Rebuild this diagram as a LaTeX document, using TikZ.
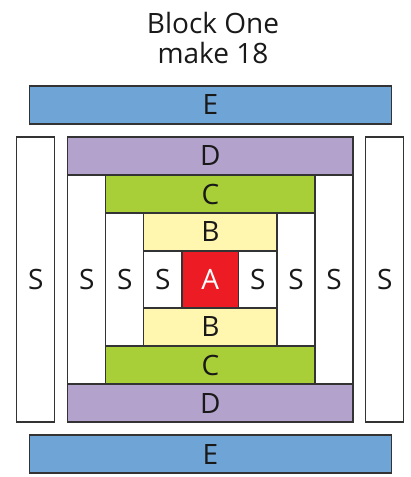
\documentclass[tikz,border=0pt]{standalone}
\usepackage{fontspec}
\setmainfont{Open Sans}
\definecolor{eblue}{HTML}{6FA4D6}
\definecolor{dpurple}{HTML}{B3A2CC}
\definecolor{cgreen}{HTML}{A9CF38}
\definecolor{byellow}{HTML}{FFF6B0}
\definecolor{ared}{HTML}{ED1C24}
\definecolor{edge}{HTML}{333333}
\begin{document}
\begin{tikzpicture}[x=1pt,y=-1pt,
  piece/.style={draw=edge,line width=1.3pt,anchor=north west,inner sep=0pt,outer sep=0pt,
    font=\fontsize{28}{28}\selectfont,text=black!90},
  sash/.style={piece,fill=white}]
\useasboundingbox (0,0) rectangle (411,477);
\node[align=center,font=\fontsize{28}{30}\selectfont,text=black!90] (title) at (213,38) {Block One\\make 18};
% outer
\node[piece,fill=eblue,minimum width=362pt,minimum height=38pt] (e1) at (29.5,86) {E};
\node[piece,fill=eblue,minimum width=362pt,minimum height=38pt] (e2) at (29.5,435) {E};
\node[sash,minimum width=38pt,minimum height=285pt] (s1) at (16.7,137) {S};
\node[sash,minimum width=38pt,minimum height=285pt] (s8) at (365.7,137) {S};
% D
\node[piece,fill=dpurple,minimum width=285.3pt,minimum height=38pt] (d1) at (67.7,137) {D};
\node[piece,fill=dpurple,minimum width=285.3pt,minimum height=38pt] (d2) at (67.7,384) {D};
\node[sash,minimum width=38pt,minimum height=209pt] (s2) at (67.7,175) {S};
\node[sash,minimum width=38pt,minimum height=209pt] (s7) at (315,175) {S};
% C
\node[piece,fill=cgreen,minimum width=209.3pt,minimum height=38pt] (c1) at (105.7,175) {C};
\node[piece,fill=cgreen,minimum width=209.3pt,minimum height=38pt] (c2) at (105.7,346) {C};
\node[sash,minimum width=38pt,minimum height=133pt] (s3) at (105.7,213) {S};
\node[sash,minimum width=38pt,minimum height=133pt] (s6) at (277,213) {S};
% B
\node[piece,fill=byellow,minimum width=133.3pt,minimum height=38pt] (b1) at (143.7,213) {B};
\node[piece,fill=byellow,minimum width=133.3pt,minimum height=38pt] (b2) at (143.7,308) {B};
\node[sash,minimum width=38.3pt,minimum height=57pt] (s4) at (143.7,251) {S};
\node[sash,minimum width=38.3pt,minimum height=57pt] (s5) at (238.7,251) {S};
% A
\node[piece,fill=ared,text=white,minimum width=56.7pt,minimum height=57pt] (a) at (182,251) {A};
\end{tikzpicture}
\end{document}
